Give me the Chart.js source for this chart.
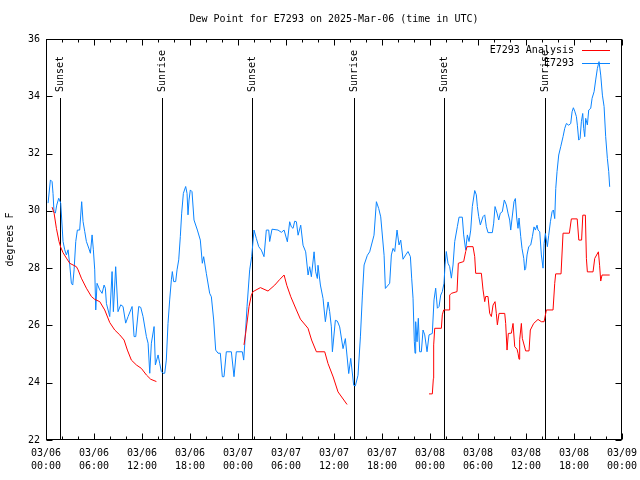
<!DOCTYPE html>
<html>
<head>
<meta charset="utf-8">
<script src="https://cdn.jsdelivr.net/npm/chart.js@4/dist/chart.umd.min.js"></script>
<style>
  html, body { margin: 0; padding: 0; background: #fff; }
  #wrap { width: 640px; height: 480px; }
</style>
</head>
<body>
<div id="wrap"><canvas id="myChart" width="640" height="480"></canvas></div>
<script>
// hours since 03/06 00:00 UTC, dew point in F
const obsHours = [0.26,0.55,0.76,0.88,1.0,1.17,1.34,1.59,1.84,2.13,2.34,2.55,2.76,2.97,3.17,3.34,3.51,3.72,3.92,4.21,4.46,4.63,4.84,5.05,5.34,5.55,5.76,5.92,6.09,6.22,6.38,6.72,7.01,7.26,7.42,7.55,7.97,8.26,8.42,8.71,9.0,9.34,9.63,9.96,10.26,10.76,11.01,11.22,11.59,11.84,12.13,12.55,12.76,12.97,13.17,13.51,13.67,14.01,14.21,14.42,
  14.63,14.84,15.04,15.25,15.46,15.67,15.79,15.96,16.21,16.38,16.59,16.79,16.96,17.17,17.46,17.63,17.75,17.88,18.04,18.25,18.5,18.92,19.29,19.54,19.71,20.04,20.46,20.67,20.96,21.21,21.5,21.79,22.04,22.25,22.54,23.17,23.5,23.79,24.54,24.71,24.84,25.13,25.46,25.71,26.0,26.29,26.59,26.92,27.25,27.54,27.84,27.96,28.25,29.0,
  29.42,29.76,30.17,30.46,30.67,30.88,31.09,31.3,31.51,31.84,32.13,32.46,32.76,32.96,33.17,33.51,33.71,33.92,34.0,34.3,34.63,34.92,35.26,35.46,35.67,35.8,36.17,36.42,36.71,37.13,37.42,37.84,38.09,38.46,38.67,39.0,39.3,39.55,39.76,40.17,40.46,41.0,41.3,41.59,41.84,42.26,42.42,
  42.96,43.17,43.38,43.59,43.88,44.13,44.34,44.63,44.96,45.25,45.55,45.71,45.88,46.04,46.13,46.21,46.38,46.54,46.71,46.92,47.13,47.34,47.63,47.88,48.29,48.5,48.71,48.92,49.13,49.34,49.54,49.75,49.88,50.04,50.25,50.46,50.67,50.88,51.09,51.42,51.63,52.04,52.21,52.46,52.67,52.88,53.09,53.29,53.59,53.79,53.92,54.09,54.29,54.63,54.84,55.04,55.25,55.79,55.96,56.13,56.38,56.59,56.79,57.04,57.29,57.54,57.75,57.96,
  58.09,58.26,58.5,58.67,58.84,59.0,59.13,59.34,59.5,59.72,59.84,59.96,60.13,60.34,60.59,60.8,61.0,61.17,61.38,61.5,61.72,61.92,62.13,62.26,62.42,62.67,62.84,63.05,63.26,63.42,63.59,63.72,63.88,64.09,64.34,64.63,64.84,65.05,65.34,65.59,65.76,65.92,66.09,66.3,66.42,66.59,66.76,66.92,67.09,67.21,67.34,67.46,67.67,67.84,68.09,68.26,68.51,68.71,68.92,69.13,69.34,69.55,69.76,69.96,70.17,70.34,70.46];
const obsDew = [30.27,31.08,31.02,30.6,29.97,29.92,30.2,30.44,30.27,28.93,28.64,28.46,28.64,28.11,27.47,27.41,27.94,28.93,29.33,29.33,30.32,29.63,29.28,28.93,28.7,28.52,29.16,28.64,27.94,26.54,27.47,27.24,27.12,27.41,27.3,26.77,26.31,27.88,26.48,28.05,26.48,26.72,26.66,26.08,26.31,26.66,25.61,25.61,26.66,26.63,26.31,25.61,25.38,24.33,25.38,25.96,24.62,24.97,24.68,24.39,
  24.33,24.33,24.79,26.07,26.89,27.59,27.88,27.53,27.53,27.94,28.29,29.1,29.92,30.61,30.85,30.61,29.86,30.38,30.73,30.67,29.68,29.33,28.98,28.17,28.4,27.82,27.12,27.0,26.19,25.14,25.03,25.03,24.21,24.21,25.08,25.08,24.21,25.08,25.08,24.79,25.32,26.66,27.94,28.4,29.33,29.04,28.75,28.63,28.4,29.33,29.33,28.93,29.36,29.33,
  29.25,29.33,28.92,29.62,29.44,29.39,29.64,29.62,29.15,29.5,28.8,28.57,27.76,28.05,27.7,28.57,27.87,27.64,28.1,27.41,26.94,26.13,26.82,26.48,25.95,25.08,26.18,26.15,25.95,25.19,25.54,24.32,24.85,23.91,23.89,24.26,25.6,27.06,28.11,28.45,28.57,29.15,30.32,30.08,29.79,28.45,27.29,
  27.47,28.46,28.69,28.58,29.33,28.81,28.98,28.31,28.46,28.58,28.4,27.65,26.95,25.43,25.03,26.13,25.43,26.25,25.08,25.08,25.84,25.67,25.08,25.67,25.72,26.89,27.3,26.6,26.66,27.06,27.18,27.47,28.11,28.58,28.17,28.05,27.65,28.11,28.93,29.45,29.78,29.78,29.16,28.64,29.16,28.93,29.33,30.15,30.71,30.56,30.15,29.8,29.51,29.8,29.86,29.45,29.24,29.24,29.57,30.15,29.92,29.68,29.92,29.97,30.38,30.21,29.92,29.68,
  29.33,29.75,30.32,30.43,29.75,29.39,29.75,29.1,28.69,28.34,27.93,27.99,28.46,28.75,28.81,29.1,29.44,29.33,29.5,29.33,29.27,28.46,28.0,28.86,29.21,28.75,29.15,29.62,29.97,30.03,29.73,30.78,31.37,31.95,32.24,32.59,32.88,33.05,32.99,33.05,33.46,33.6,33.48,33.29,32.99,32.47,32.53,33.11,33.4,32.88,32.59,33.23,33.0,33.52,33.58,33.93,34.16,34.57,34.97,35.21,34.74,34.04,33.64,32.59,31.83,31.37,30.84];

// analysis (gaps = null)
const anaHours = [0.76,1.01,1.3,1.63,1.84,2.13,2.55,2.97,3.38,3.8,4.01,4.42,5.05,5.67,6.09,6.72,7.34,7.97,8.59,9.22,9.76,10.17,10.67,11.3,11.92,12.55,13.09,13.8,
  19.0,
  24.75,24.96,25.17,25.38,25.67,25.88,26.8,27.75,28.6,29.2,29.76,30.1,30.6,31.3,31.8,32.75,33.2,33.8,34.84,35.25,35.9,36.5,37.63,
  43.0,
  47.88,48.29,48.42,48.46,48.59,49.42,49.54,49.71,50.38,50.46,50.67,51.38,51.54,52.21,52.46,52.63,53.38,53.59,53.71,54.42,54.63,54.84,54.96,55.25,55.46,55.67,55.88,56.13,56.29,56.42,56.63,57.34,57.46,57.63,57.79,58.17,58.38,58.59,58.88,59.0,59.13,59.21,59.42,59.54,59.96,60.38,60.54,60.96,61.5,61.92,62.26,62.55,63.38,63.59,63.71,64.38,64.63,65.42,65.67,66.4,66.6,66.95,67.1,67.42,67.55,67.67,68.38,68.59,69.05,69.2,69.34,69.5,70.46];
const anaDew = [30.13,29.92,29.39,28.93,28.73,28.54,28.35,28.17,28.11,28.05,27.94,27.65,27.3,27.01,26.91,26.83,26.54,26.1,25.84,25.67,25.49,25.14,24.79,24.62,24.5,24.27,24.12,24.04,
  null,
  25.32,25.73,26.19,26.66,27.06,27.18,27.32,27.2,27.41,27.6,27.76,27.4,27.0,26.54,26.22,25.9,25.49,25.08,25.08,24.67,24.2,23.68,23.24,
  null,
  23.61,23.61,24.15,25.32,25.9,25.9,26.37,26.54,26.54,27.06,27.12,27.18,28.17,28.23,28.58,28.75,28.75,28.4,27.82,27.82,27.24,26.83,27.01,27.01,26.42,26.31,26.71,26.83,26.42,26.02,26.42,26.42,26.07,25.14,25.72,25.73,26.07,25.26,25.17,25.03,24.82,25.5,26.07,25.55,25.11,25.11,25.84,26.07,26.21,26.13,26.13,26.54,26.54,27.47,27.8,27.8,29.22,29.22,29.72,29.72,28.98,28.98,29.85,29.85,28.34,27.87,27.87,28.34,28.57,28.1,27.55,27.76,27.76];

const sunHours  = [1.75, 14.5, 25.75, 38.5, 49.75, 62.4];
const sunLabels = ['Sunset','Sunrise','Sunset','Sunrise','Sunset','Sunrise'];

const xTickLabels = [['03/06','00:00'],['03/06','06:00'],['03/06','12:00'],['03/06','18:00'],
  ['03/07','00:00'],['03/07','06:00'],['03/07','12:00'],['03/07','18:00'],
  ['03/08','00:00'],['03/08','06:00'],['03/08','12:00'],['03/08','18:00'],['03/09','00:00']];

const chartTitle = 'Dew Point for E7293 on 2025-Mar-06 (time in UTC)';

const FONT = 'DejaVu Sans Mono';
const BLUE = '#0a84ff';
const RED = '#ff0000';

Chart.defaults.font.family = FONT;
Chart.defaults.font.size = 10;
Chart.defaults.color = '#000';

const gnuplotBits = {
  id: 'gnuplotBits',
  beforeDatasetsDraw(chart) {
    const {ctx, chartArea: a, scales: {x}} = chart;
    ctx.save();
    ctx.strokeStyle = '#000';
    ctx.lineWidth = 1;
    ctx.fillStyle = '#000';
    ctx.font = '10px ' + FONT;
    // title, centred over the plot box like gnuplot does
    ctx.textAlign = 'center';
    ctx.textBaseline = 'middle';
    ctx.fillText(chartTitle, (a.left + a.right) / 2, 19);

    ctx.textAlign = 'left';
    sunHours.forEach((h, i) => {
      const px = Math.round(x.getPixelForValue(h)) + 0.5;
      ctx.beginPath();
      ctx.moveTo(px, a.top + 59);
      ctx.lineTo(px, a.bottom);
      ctx.stroke();
      ctx.save();
      ctx.translate(px, a.top + 53);
      ctx.rotate(-Math.PI / 2);
      ctx.fillText(sunLabels[i], 0, 0);
      ctx.restore();
    });
    ctx.restore();
  },
  afterDatasetsDraw(chart) {
    const {ctx, chartArea: a, scales: {x, y}} = chart;
    ctx.save();
    ctx.strokeStyle = '#000';
    ctx.lineWidth = 1;
    const L = a.left + 0.5, R = a.right - 0.5, T = a.top + 0.5, B = a.bottom - 0.5;
    ctx.strokeRect(L, T, R - L, B - T);
    ctx.beginPath();
    // x ticks, inward, mirrored
    for (let h = 0; h <= 72; h += 2) {
      const px = Math.round(x.getPixelForValue(h)) + 0.5;
      const len = h % 6 === 0 ? 6 : 3;
      ctx.moveTo(px, B); ctx.lineTo(px, B - len);
      ctx.moveTo(px, T); ctx.lineTo(px, T + len);
    }
    for (let v = 22; v <= 36; v += 2) {
      const py = Math.round(y.getPixelForValue(v)) + 0.5;
      ctx.moveTo(L, py); ctx.lineTo(L + 6, py);
      ctx.moveTo(R, py); ctx.lineTo(R - 6, py);
    }
    ctx.stroke();

    // legend, top right inside
    ctx.font = '10px ' + FONT;
    ctx.textAlign = 'right';
    ctx.textBaseline = 'middle';
    ctx.fillStyle = '#000';
    chart.data.datasets.forEach((ds, i) => {
      const ry = a.top + 11 + i * 13;
      ctx.fillText(ds.label, a.right - 48, ry);
      ctx.strokeStyle = ds.borderColor;
      ctx.beginPath();
      ctx.moveTo(a.right - 40, Math.round(ry) + 0.5);
      ctx.lineTo(a.right - 12, Math.round(ry) + 0.5);
      ctx.stroke();
    });
    ctx.restore();
  }
};

new Chart(document.getElementById('myChart'), {
  type: 'line',
  data: {
    datasets: [
      {
        label: 'E7293 Analysis',
        data: anaHours.map((h, i) => ({x: h, y: anaDew[i]})),
        borderColor: RED,
        borderWidth: 1,
        pointRadius: 0,
        tension: 0,
        spanGaps: false
      },
      {
        label: 'E7293',
        data: obsHours.map((h, i) => ({x: h, y: obsDew[i]})),
        borderColor: BLUE,
        borderWidth: 1,
        pointRadius: 0,
        tension: 0
      }
    ]
  },
  options: {
    responsive: false,
    animation: false,
    layout: { padding: { left: 0, right: 18, top: 39, bottom: 0 } },
    plugins: {
      legend: { display: false },
      tooltip: { enabled: false },
      title: { display: false }
    },
    scales: {
      x: {
        type: 'linear',
        min: 0,
        max: 72,
        grid: { display: false, drawTicks: false },
        border: { display: false },
        ticks: {
          stepSize: 6,
          autoSkip: false,
          maxRotation: 0,
          padding: 7,
          font: { size: 10, lineHeight: 1.3 },
          callback: (v) => xTickLabels[Math.round(v / 6)]
        },
        afterFit: (s) => {
          s.height = 40;
          // let the layout padding decide the plot edges, not the end labels
          s.paddingLeft = 0;
          s.paddingRight = 0;
        }
      },
      y: {
        min: 22,
        max: 36,
        grid: { display: false, drawTicks: false },
        border: { display: false },
        ticks: { stepSize: 2, padding: 6, font: { size: 10 } },
        title: { display: true, text: 'degrees F', font: { size: 10 }, padding: { top: 4, bottom: 0 } },
        afterFit: (s) => { s.width = 46; }
      }
    }
  },
  plugins: [gnuplotBits]
});
</script>
</body>
</html>
